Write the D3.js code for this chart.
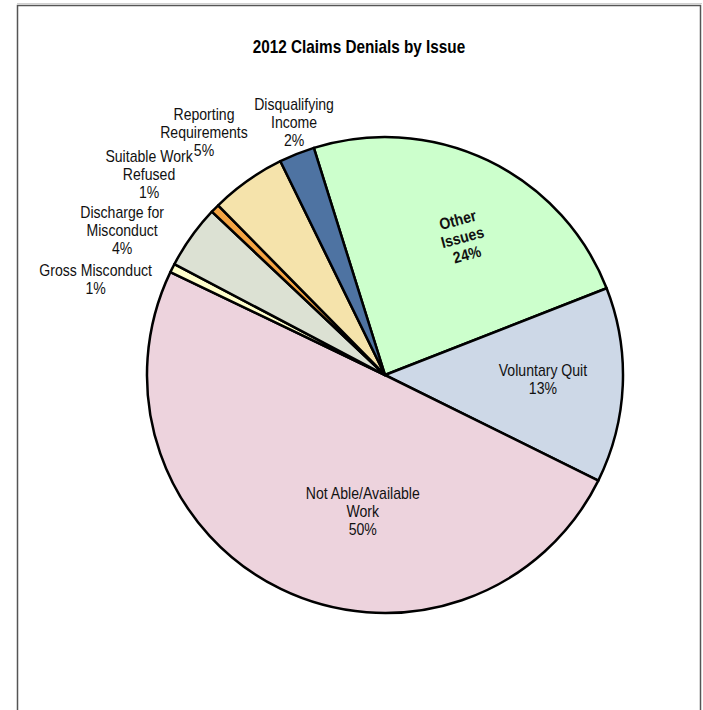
<!DOCTYPE html>
<html>
<head>
<meta charset="utf-8">
<style>
  body { margin: 0; background: #fff; }
  text { font-family: "Liberation Sans Narrow", "Arial Narrow", "Liberation Sans", Arial, sans-serif; }
</style>
</head>
<body>
<svg id="chart" width="703" height="710"></svg>
<script src="https://d3js.org/d3.v7.min.js"></script>
<script>

// 2012 claims denials, share of denials by issue
var categories = ["Other\nIssues", "Voluntary Quit", "Not Able/Available\nWork", "Gross Misconduct",
                  "Discharge for\nMisconduct", "Suitable Work\nRefused", "Reporting\nRequirements",
                  "Disqualifying\nIncome"];
var values = [23.8, 13.2, 49.6, 0.6, 4.3, 0.6, 5.1, 2.4];
var colors = ["#ccffcc", "#cdd8e7", "#edd3dd", "#ffffcc", "#dce1d3", "#f4a443", "#f5e3ab", "#4e73a2"];

// label placement: radius as fraction of pie radius, angular nudge in degrees
var labelLayout = [
  {k: 0.664, shift: 3.7, rotate: -15, bold: true},
  {k: 0.664, shift: -0.7},
  {k: 0.58, shift: -16.7},
  {k: 1.28, shift: -8.5},
  {k: 1.26, shift: -6.8},
  {k: 1.30, shift: -4.1},
  {k: 1.27, shift: -1.5},
  {k: 1.126, shift: 1.9}
];

var svg = d3.select("#chart"),
    width = +svg.attr("width"),
    height = +svg.attr("height");

var cx = 385, cy = 375, radius = 238;
var lineHeight = 18;
var squeeze = 0.88;   // the original uses a narrow face

// chart frame
svg.append("line")
    .attr("x1", 17).attr("x2", 702).attr("y1", 3.5).attr("y2", 3.5)
    .attr("stroke", "#d0d0d0").attr("stroke-width", 1);
svg.append("rect")
    .attr("x", 17.5).attr("y", 5.5)
    .attr("width", 683).attr("height", 720)
    .attr("fill", "none")
    .attr("stroke", "#555")
    .attr("stroke-width", 1.5);

svg.append("text")
    .attr("transform", "translate(359,53) scale(0.85,1)")
    .attr("text-anchor", "middle")
    .style("font-size", "18px")
    .style("font-weight", "bold")
    .text("2012 Claims Denials by Issue");

var total = d3.sum(values);
var rows = values.map(function(v, i) { return {name: categories[i], value: v, color: colors[i], layout: labelLayout[i]}; });

var pie = d3.pie()
    .sort(null)
    .value(function(d) { return d.value; })
    .startAngle(-17.4 * Math.PI / 180)
    .endAngle((360 - 17.4) * Math.PI / 180);

var arc = d3.arc().innerRadius(0).outerRadius(radius);

var g = svg.append("g").attr("transform", "translate(" + cx + "," + cy + ")");

var arcs = pie(rows);

g.selectAll("path.slice")
  .data(arcs)
  .enter().append("path")
    .attr("class", "slice")
    .attr("d", arc)
    .attr("fill", function(d) { return d.data.color; })
    .attr("stroke", "#000")
    .attr("stroke-width", 2.5)
    .attr("stroke-linejoin", "round");

var pct = d3.format(".0%");

var labels = g.selectAll("text.label")
  .data(arcs)
  .enter().append("text")
    .attr("class", "label")
    .attr("text-anchor", "middle")
    .style("font-size", "16px")
    .style("font-weight", function(d) { return d.data.layout.bold ? "bold" : "normal"; })
    .attr("fill", "#111")
    .attr("transform", function(d) {
      var a = (d.startAngle + d.endAngle) / 2 + d.data.layout.shift * Math.PI / 180;
      var rr = radius * d.data.layout.k;
      var x = rr * Math.sin(a), y = -rr * Math.cos(a);
      return "translate(" + x + "," + y + ")" +
        (d.data.layout.rotate ? " rotate(" + d.data.layout.rotate + ")" : "") +
        " scale(" + squeeze + ",1)";
    });

labels.each(function(d) {
  var lines = d.data.name.split("\n").concat([pct(d.data.value / total)]);
  var n = lines.length;
  d3.select(this).selectAll("tspan")
    .data(lines)
    .enter().append("tspan")
      .attr("x", 0)
      .attr("y", function(t, i) { return (i - (n - 1) / 2) * lineHeight + 5.5; })
      .text(function(t) { return t; });
});

</script>
</body>
</html>
